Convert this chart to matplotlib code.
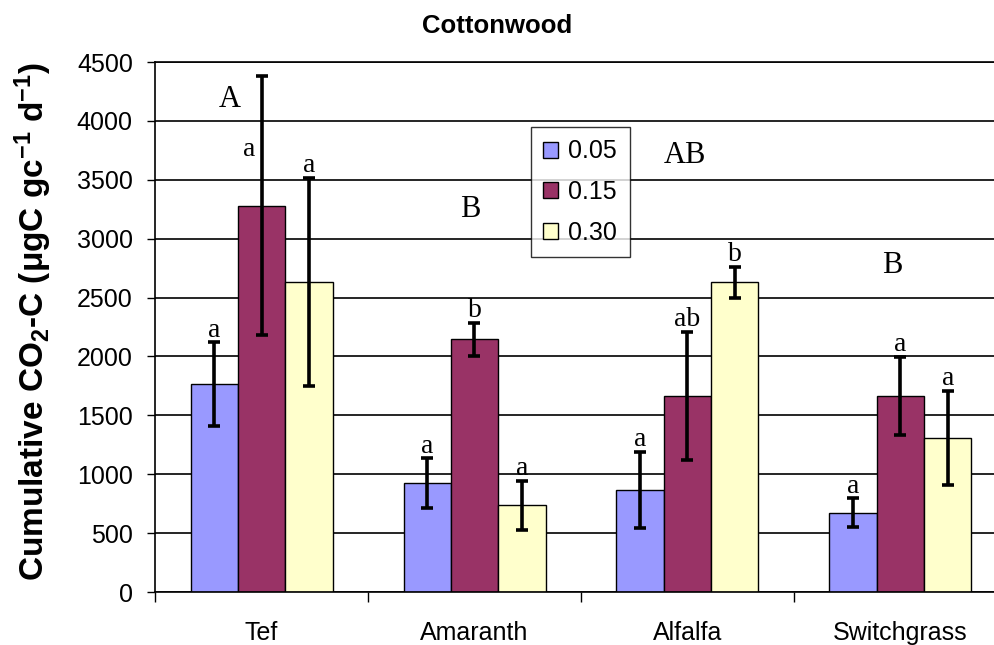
import numpy as np
import matplotlib
matplotlib.use("Agg")
import matplotlib.pyplot as plt

plt.rcParams['font.family'] = ['Liberation Sans', 'DejaVu Sans']
plt.rcParams['mathtext.fontset'] = 'custom'
plt.rcParams['mathtext.rm'] = 'Liberation Sans'
plt.rcParams['mathtext.bf'] = 'Liberation Sans:bold'
plt.rcParams['mathtext.it'] = 'Liberation Sans:italic'

categories = ["Tef", "Amaranth", "Alfalfa", "Switchgrass"]
series_names = ["0.05", "0.15", "0.30"]
means_005 = [1765, 925, 865, 675]
means_015 = [3280, 2145, 1665, 1665]
means_030 = [2630, 735, 2630, 1310]
err_005 = [355, 210, 325, 120]
err_015 = [1100, 140, 545, 330]
err_030 = [885, 210, 130, 400]
letters_005 = ["a", "a", "a", "a"]
letters_015 = ["a", "b", "ab", "a"]
letters_030 = ["a", "a", "b", "a"]
group_letters = ["A", "B", "AB", "B"]

# annotation placement (not data)
group_letter_x = [-0.15, -0.02, -0.01, -0.04]
group_letter_y = [4180, 3250, 3710, 2770]

colors = ["#9999FF", "#993366", "#FFFFCC"]

fig = plt.figure(figsize=(9.95, 6.45), dpi=100)
ax = fig.add_axes([155/995, 1-592/645, (1007-155)/995, (592-62)/645])

x = np.arange(len(categories))
bw = 1/4.5
means = [means_005, means_015, means_030]
errs = [err_005, err_015, err_030]
letters = [letters_005, letters_015, letters_030]

ax.set_ylim(0, 4500)
ax.set_xlim(-0.5, len(categories)-0.5)
ax.set_yticks(np.arange(0, 4501, 500))
ax.yaxis.grid(True, color='black', linewidth=1.2)
ax.set_axisbelow(True)

for i in range(3):
    pos = x + (i-1)*bw
    ax.bar(pos, means[i], width=bw, color=colors[i], edgecolor='black',
           linewidth=1, label=series_names[i], zorder=2)
    ax.errorbar(pos, means[i], yerr=errs[i], fmt='none', ecolor='black',
                elinewidth=2.6, capsize=4, capthick=2.6, zorder=3)
    for j in range(len(categories)):
        top = means[i][j] + errs[i][j]
        if i == 1 and j == 0:
            ax.text(pos[j]-0.06, 3700, letters[i][j], ha='center', va='baseline',
                    family='Liberation Serif', fontsize=20, zorder=4)
        else:
            ax.annotate(letters[i][j], (pos[j], top), xytext=(0, 4),
                        textcoords='offset points', ha='center', va='baseline',
                        family='Liberation Serif', fontsize=20, zorder=4)

for j in range(len(categories)):
    ax.text(x[j] + group_letter_x[j], group_letter_y[j], group_letters[j],
            ha='center', va='center', family='Liberation Serif', fontsize=22)

ax.set_xticks(x)
ax.set_xticklabels(categories, fontsize=18)
ax.set_xticks(np.arange(-0.5, len(categories), 1.0), minor=True)
ax.tick_params(axis='x', which='major', length=0, pad=21)
ax.tick_params(axis='x', which='minor', length=7, width=1, direction='out')
ax.tick_params(axis='y', labelsize=18, length=6, width=1, direction='out', pad=10)
for s in ['left', 'bottom', 'top']:
    ax.spines[s].set_linewidth(1.2)
ax.spines['right'].set_visible(False)

leg = ax.legend(loc='upper left', bbox_to_anchor=((531-155)/852, (592-127)/530),
                fontsize=18, frameon=True, fancybox=False, edgecolor='black',
                handlelength=0.6, handleheight=0.6, labelspacing=0.66,
                borderpad=0.5, handletextpad=0.4, borderaxespad=0)
leg.get_frame().set_linewidth(1)

fig.text(33/995, 1-322/645,
         r'Cumulative CO$_\mathbf{2}$-C (μgC gc$^{\mathbf{-1}}$ d$^{\mathbf{-1}}$)',
         rotation=90, ha='center', va='center', fontsize=24, fontweight='bold')
fig.text(497/995, 1-26/645, 'Cottonwood', ha='center', va='center',
         fontsize=18.5, fontweight='bold')

fig.savefig('out.png', dpi=100)
